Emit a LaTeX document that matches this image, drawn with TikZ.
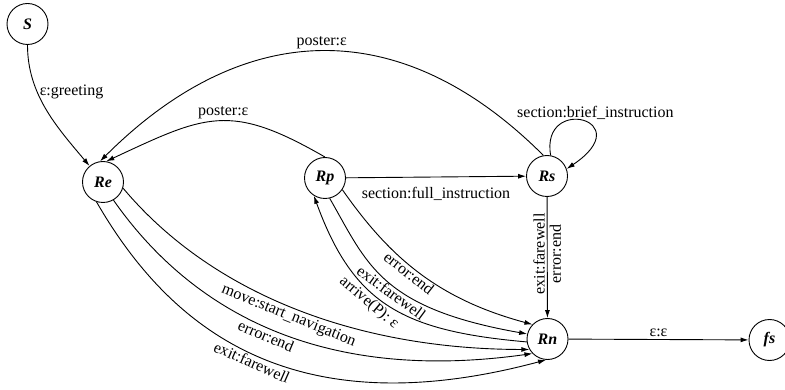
\documentclass[tikz,border=0pt]{standalone}
\usepackage{fontspec}
\setmainfont{Liberation Serif}
\usetikzlibrary{arrows.meta}
\begin{document}
\begin{tikzpicture}[x=1pt,y=1pt,
  state/.style={circle,draw,line width=0.9pt,minimum size=41pt,inner sep=0pt,font=\fontsize{16}{18}\selectfont\bfseries\itshape},
  tr/.style={line width=0.9pt,-{Latex[length=8pt,width=5pt]}},
  lab/.style={font=\fontsize{16}{18}\selectfont,inner sep=2pt},
  tight/.style={inner sep=0.5pt}]
\useasboundingbox (0,0) rectangle (785,-390);
\node[state] (S)  at (27.5,-24) {S};
\node[state] (Re) at (103,-182) {Re};
\node[state] (Rp) at (325,-178) {Rp};
\node[state] (Rs) at (547,-176) {Rs};
\node[state] (Rn) at (547.5,-339) {Rn};
\node[state] (fs) at (769.5,-340) {fs};
% S -> Re
\draw[tr] (S.-90) .. controls +(-90:50) and +(130:50) .. node[lab,right,pos=0.35]{ε:greeting} (Re.130);
% Rs -> Re
\draw[tr] (Rs.100) .. controls +(135:202) and +(45:202) .. node[lab,above,pos=0.5]{poster:ε} (Re.98);
% Rp -> Re
\draw[tr] (Rp.90) .. controls +(150:110) and +(25:110) .. node[lab,above,pos=0.5,xshift=6]{poster:ε} (Re.81);
% Rp -> Rs
\draw[tr] (Rp) -- node[lab,below=8pt]{section:full\_instruction} (Rs);
% Rs loop
\draw[tr] (Rs.80) .. controls +(99.7:62) and +(33.7:88.6) .. node[lab,above,pos=0.5,xshift=13,inner sep=1pt]{section:brief\_instruction} (Rs.20);
% Rs -> Rn
\draw[tr] (Rs) -- node[lab,rotate=90,anchor=south,pos=0.47]{exit:farewell} node[lab,rotate=90,anchor=north,pos=0.47]{error:end} (Rn);
% Rn -> fs
\draw[tr] (Rn) -- node[lab,above]{ε:ε} (fs);
% Rp <-> Rn
\draw[tr] (Rp.-34) .. controls +(-55:80) and +(165:100) .. node[lab,tight,sloped,below,pos=0.47]{error:end} (Rn.136);
\draw[tr] (Rp.-77) .. controls +(-60:75) and +(170:150) .. node[lab,tight,sloped,below,pos=0.55]{exit:farewell} (Rn.166);
\draw[tr] (Rn.188) .. controls +(175:125) and +(-70:115) .. node[lab,tight,sloped,below=1.5pt,pos=0.57]{arrive(P): ε} (Rp.-122);
% Re -> Rn
\draw[tr] (Re.-17) .. controls +(-50:140) and +(180:170) .. node[lab,sloped,below,pos=0.49]{move:start\_navigation} (Rn.210);
\draw[tr] (Re.-60) .. controls +(-55:130) and +(188:220) .. node[lab,sloped,below,pos=0.5]{error:end} (Rn.224);
\draw[tr] (Re.-108) .. controls +(-60:150) and +(195:260) .. node[lab,sloped,below,pos=0.5]{exit:farewell} (Rn.266);
\end{tikzpicture}
\end{document}
